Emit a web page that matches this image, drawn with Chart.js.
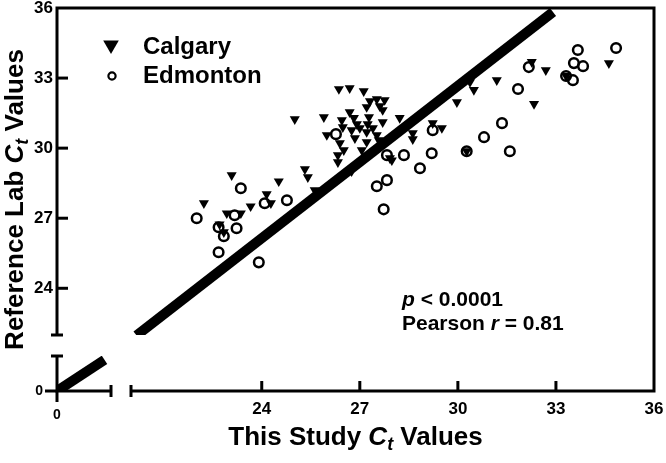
<!DOCTYPE html>
<html>
<head>
<meta charset="utf-8">
<script src="https://cdn.jsdelivr.net/npm/chart.js@4.4.0/dist/chart.umd.min.js"></script>
<style>
  html, body { margin: 0; padding: 0; background: #fff; }
  #wrap { width: 666px; height: 463px; position: relative; }
</style>
</head>
<body>
<div id="wrap"><canvas id="ctChart"></canvas></div>
<script>
// Calgary (triangles) and Edmonton (circles): this study Ct vs reference lab Ct
const calgaryX = [22.23, 23.08, 24.52, 24.15, 24.28, 23.66, 22.93, 23.36, 22.71, 22.84,
  25.01, 25.32, 25.41, 25.62, 25.90, 26.36, 26.69, 27.12, 27.31, 27.52,
  27.76, 27.61, 27.70, 27.21, 26.45, 26.69, 26.82, 26.91, 26.48, 26.75,
  27.00, 27.28, 27.24, 27.40, 27.70, 25.99, 26.39, 26.51, 26.33, 26.33,
  26.85, 27.21, 27.21, 27.52, 27.58, 27.92, 26.75, 27.06, 28.22, 28.62,
  28.62, 29.23, 29.51, 27.98, 29.97, 30.37, 30.49, 31.19, 32.26, 32.69,
  32.33, 34.62, 30.27, 33.31];
const calgaryY = [27.64, 28.84, 28.58, 28.03, 27.64, 27.51, 27.21, 27.21, 26.74, 26.40,
  31.24, 29.10, 28.76, 28.20, 31.33, 32.53, 32.57, 32.44, 32.01, 32.10,
  32.06, 31.80, 31.63, 31.76, 31.20, 31.54, 31.29, 31.03, 30.90, 30.77,
  30.86, 31.33, 31.03, 30.86, 31.11, 30.56, 30.21, 29.91, 29.70, 29.40,
  30.43, 30.69, 30.26, 30.56, 30.34, 29.57, 29.01, 29.91, 31.29, 30.64,
  30.38, 31.07, 30.86, 29.48, 31.97, 32.83, 32.49, 32.91, 33.69, 33.34,
  31.89, 33.64, 29.87, 33.09];
const edmontonX = [22.01, 22.68, 22.84, 22.68, 23.23, 23.17, 23.36, 23.91, 24.09, 24.77,
  26.27, 27.83, 28.35, 27.52, 27.83, 27.73, 28.84, 29.20, 29.23, 30.27,
  30.80, 31.35, 31.59, 31.84, 32.17, 33.52, 33.55, 33.83, 33.67, 34.84, 33.31];
const edmontonY = [27.00, 26.61, 26.23, 25.54, 26.57, 27.13, 28.28, 25.11, 27.64, 27.77,
  30.60, 29.70, 29.70, 28.37, 28.63, 27.38, 29.14, 29.78, 30.77, 29.87,
  30.47, 31.07, 29.87, 32.53, 33.47, 32.91, 33.64, 33.51, 34.20, 34.29, 33.09];

// correlation line, drawn on both sides of the axis break
const fitX = [20.17, 32.91];
const fitY = [21.98, 35.83];
const fitLowX = [0, 8.8];
const fitLowY = [0, 8.9];

// tick labels
const xTicksHigh = [24, 27, 30, 33, 36];
const yTicksHigh = [24, 27, 30, 33, 36];
const xTicksLow = [0];
const yTicksLow = [0];

const FONT = "'Liberation Sans', Arial, Helvetica, sans-serif";

const toPoints = (xs, ys) => xs.map((x, i) => ({x: x, y: ys[i]}));

// draw a line of text made of differently styled pieces
function richText(ctx, parts, x, y, align) {
    let total = 0;
    parts.forEach(p => {
        ctx.font = p.style + ' ' + p.size + 'px ' + FONT;
        p.w = ctx.measureText(p.t).width;
        total += p.w;
    });
    let cx = align === 'center' ? x - total / 2 : x;
    parts.forEach(p => {
        ctx.font = p.style + ' ' + p.size + 'px ' + FONT;
        ctx.fillText(p.t, cx, y + (p.dy || 0));
        cx += p.w;
    });
}

const brokenAxes = {
    id: 'brokenAxes',
    afterDraw(chart) {
        const {ctx, scales, chartArea} = chart;
        const yh = scales.yHigh, yl = scales.yLow, xl = scales.xLow, xh = scales.xHigh;
        const ax = chartArea.left, ay = chartArea.bottom;
        const seg = (x1, y1, x2, y2) => {
            ctx.beginPath(); ctx.moveTo(x1, y1); ctx.lineTo(x2, y2); ctx.stroke();
        };
        ctx.save();
        ctx.strokeStyle = '#000';
        ctx.fillStyle = '#000';
        ctx.lineWidth = 3;
        ctx.lineCap = 'butt';
        ctx.lineJoin = 'miter';

        // upper left axis + frame + right part of x axis
        ctx.beginPath();
        ctx.moveTo(ax, yh.bottom);
        ctx.lineTo(ax, chartArea.top);
        ctx.lineTo(chartArea.right, chartArea.top);
        ctx.lineTo(chartArea.right, ay);
        ctx.lineTo(xh.left, ay);
        ctx.stroke();
        // lower left corner
        ctx.beginPath();
        ctx.moveTo(ax, yl.top);
        ctx.lineTo(ax, ay);
        ctx.lineTo(xl.right, ay);
        ctx.stroke();

        // break caps
        seg(ax - 6, yh.bottom, ax + 6, yh.bottom);
        seg(ax - 6, yl.top, ax + 6, yl.top);
        seg(xl.right, ay - 6, xl.right, ay + 6);
        seg(xh.left, ay - 6, xh.left, ay + 6);

        // ticks: inward on the upper parts, outward near zero
        yTicksHigh.forEach(v => {
            if (v >= yh.max) return;
            const p = yh.getPixelForValue(v);
            seg(ax, p, ax + 11, p);
        });
        xTicksHigh.forEach(v => {
            if (v >= xh.max) return;
            const p = xh.getPixelForValue(v);
            seg(p, ay, p, ay - 10);
        });
        yTicksLow.forEach(v => {
            const p = yl.getPixelForValue(v);
            seg(ax - 12, p, ax, p);
        });
        xTicksLow.forEach(v => {
            const p = xl.getPixelForValue(v);
            seg(p, ay, p, ay + 11);
        });

        // legend
        const tx = 111, ty = 45, r = 9;
        ctx.beginPath();
        ctx.moveTo(tx - r * Math.sin(Math.PI / 3), ty - r / 2);
        ctx.lineTo(tx + r * Math.sin(Math.PI / 3), ty - r / 2);
        ctx.lineTo(tx, ty + r);
        ctx.closePath();
        ctx.fill();
        ctx.lineWidth = 2.2;
        ctx.beginPath();
        ctx.arc(112, 76, 3.6, 0, Math.PI * 2);
        ctx.stroke();

        ctx.textAlign = 'left';
        ctx.textBaseline = 'middle';
        ctx.font = 'bold 24px ' + FONT;
        ctx.fillText('Calgary', 143, 47);
        ctx.fillText('Edmonton', 143, 76);

        // statistics
        ctx.textBaseline = 'alphabetic';
        richText(ctx, [
            {t: 'p', style: 'italic bold', size: 21},
            {t: ' < 0.0001', style: 'bold', size: 21}
        ], 402, 306, 'left');
        richText(ctx, [
            {t: 'Pearson ', style: 'bold', size: 21},
            {t: 'r', style: 'italic bold', size: 21},
            {t: ' = 0.81', style: 'bold', size: 21}
        ], 402, 330, 'left');

        // axis titles
        const titleParts = (start) => [
            {t: start, style: 'bold', size: 26},
            {t: 'C', style: 'italic bold', size: 26},
            {t: 't', style: 'italic bold', size: 18, dy: 5},
            {t: ' Values', style: 'bold', size: 26}
        ];
        richText(ctx, titleParts('This Study '), (chartArea.left + chartArea.right) / 2, 445, 'center');
        ctx.translate(23, (chartArea.top + chartArea.bottom) / 2);
        ctx.rotate(-Math.PI / 2);
        richText(ctx, titleParts('Reference Lab '), 0, 0, 'center');
        ctx.restore();
    }
};

const tickFont = {family: FONT, size: 17, weight: 'bold', lineHeight: 1};
const zeroFont = {family: FONT, size: 14, weight: 'bold', lineHeight: 1};
const hidden = {display: false};

// the broken axes are built from stacked scales; label overflow padding is
// switched off so that the plot area stays where the frame is
const noPad = s => { s.paddingTop = 0; s.paddingBottom = 0; s.paddingLeft = 0; s.paddingRight = 0; };
const yBase = {
    type: 'linear', axis: 'y', position: 'left', stack: 'yStack',
    grid: {display: false, drawTicks: false}, border: hidden,
    afterFit: s => { s.width = 57; noPad(s); }
};
const xBase = {
    type: 'linear', axis: 'x', position: 'bottom', stack: 'xStack',
    grid: {display: false, drawTicks: false}, border: hidden,
    afterFit: s => { s.height = 72; noPad(s); }
};

const ctx = document.getElementById('ctChart').getContext('2d');
const ctChart = new Chart(ctx, {
    type: 'scatter',
    data: {
        datasets: [{
            label: 'Calgary',
            data: toPoints(calgaryX, calgaryY),
            xAxisID: 'xHigh', yAxisID: 'yHigh',
            pointStyle: 'triangle', rotation: 180,
            pointRadius: 5.8, pointHoverRadius: 5.8,
            backgroundColor: '#000', borderColor: '#000', borderWidth: 0
        }, {
            label: 'Edmonton',
            data: toPoints(edmontonX, edmontonY),
            xAxisID: 'xHigh', yAxisID: 'yHigh',
            pointStyle: 'circle',
            pointRadius: 4.8, pointHoverRadius: 4.8,
            backgroundColor: 'rgba(0,0,0,0)', borderColor: '#000', borderWidth: 2.5
        }, {
            label: 'fit',
            data: toPoints(fitX, fitY),
            xAxisID: 'xHigh', yAxisID: 'yHigh',
            showLine: true, pointRadius: 0, borderWidth: 10, borderColor: '#000'
        }, {
            label: 'fitLow',
            data: toPoints(fitLowX, fitLowY),
            xAxisID: 'xLow', yAxisID: 'yLow',
            showLine: true, pointRadius: 0, borderWidth: 10, borderColor: '#000'
        }]
    },
    options: {
        responsive: true,
        maintainAspectRatio: false,
        animation: false,
        layout: {padding: {left: 0, right: 12, top: 8, bottom: 0}},
        plugins: {
            legend: {display: false},
            tooltip: {enabled: false}
        },
        scales: {
            // left boxes are stacked in reverse order, so the lowest piece comes first
            yLow: Object.assign({}, yBase, {
                min: 0, max: 10, stackWeight: 35,
                afterBuildTicks: s => { s.ticks = yTicksLow.map(v => ({value: v})); },
                ticks: {font: zeroFont, color: '#000', padding: 14, autoSkip: false}
            }),
            yGap: Object.assign({}, yBase, {min: 0, max: 1, stackWeight: 21, display: false}),
            yHigh: Object.assign({}, yBase, {
                min: 22, max: 36, stackWeight: 327,
                afterBuildTicks: s => { s.ticks = yTicksHigh.map(v => ({value: v})); },
                ticks: {font: tickFont, color: '#000', padding: 4, autoSkip: false}
            }),
            xLow: Object.assign({}, xBase, {
                min: 0, max: 10, stackWeight: 54,
                afterBuildTicks: s => { s.ticks = xTicksLow.map(v => ({value: v})); },
                ticks: {font: zeroFont, color: '#000', padding: 17, autoSkip: false, maxRotation: 0}
            }),
            xGap: Object.assign({}, xBase, {min: 0, max: 1, stackWeight: 20, display: false}),
            xHigh: Object.assign({}, xBase, {
                min: 20, max: 36, stackWeight: 523,
                afterBuildTicks: s => { s.ticks = xTicksHigh.map(v => ({value: v})); },
                ticks: {font: tickFont, color: '#000', padding: 10, autoSkip: false, maxRotation: 0}
            })
        }
    },
    plugins: [brokenAxes]
});
</script>
</body>
</html>
